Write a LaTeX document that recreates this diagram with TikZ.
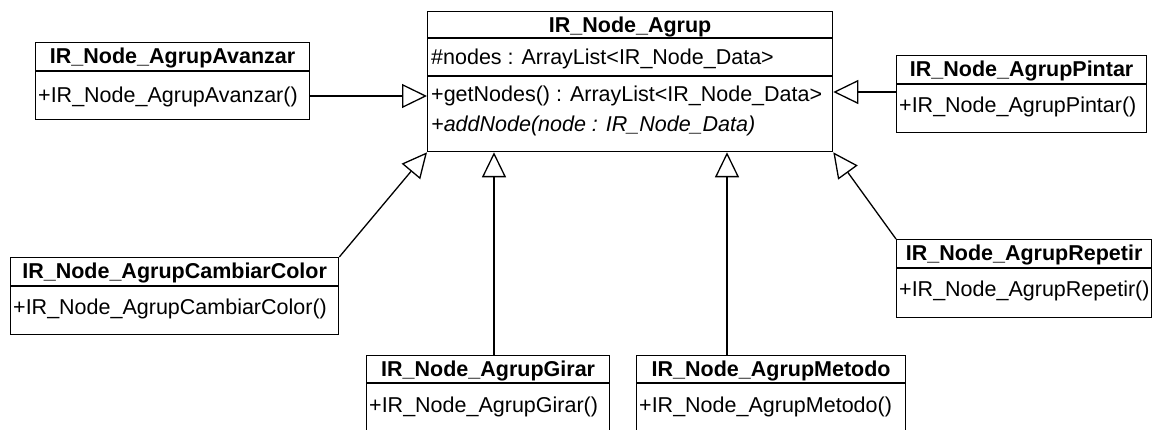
\documentclass[tikz,border=0pt]{standalone}
\usepackage{fontspec}
\setmainfont{Liberation Sans}
\usetikzlibrary{arrows.meta,calc}

\tikzset{
  umlbox/.style={draw, line width=1.3pt, fill=white, inner sep=0pt, anchor=north west},
  umlsep/.style={line width=1.3pt},
  umltitle/.style={font=\fontsize{21.5}{26}\selectfont\bfseries, anchor=base, inner sep=0pt},
  umlmember/.style={font=\fontsize{21.5}{26}\selectfont, anchor=base west, inner sep=0pt},
  inherit/.style={line width=1.3pt, -{Triangle[open, length=25pt, width=24pt, fill=white]}},
}

\begin{document}
\begin{tikzpicture}[x=1pt, y=-1pt]
\useasboundingbox (0,0) rectangle (1152,430);

% ---- base class ----
\node[umlbox, minimum width=405pt, minimum height=140pt] (agrup) at (427,11) {};
\draw[umlsep] (agrup.west |- 0,38) -- (agrup.east |- 0,38);
\draw[umlsep] (agrup.west |- 0,76) -- (agrup.east |- 0,76);
\node[umltitle] (agrupT) at (agrup.north |- 0,33) {IR\_Node\_Agrup};
\node[umlmember] (agrupA) at (431,65) {\#nodes : ArrayList<IR\_Node\_Data>};
\node[umlmember] (agrupM1) at (431,102) {+getNodes() : ArrayList<IR\_Node\_Data>};
\node[umlmember] (agrupM2) at (431,132) {\itshape +addNode(node : IR\_Node\_Data)};

% ---- subclasses ----
\node[umlbox, minimum width=274pt, minimum height=77pt] (avz) at (35,42) {};
\draw[umlsep] (avz.west |- 0,71) -- (avz.east |- 0,71);
\node[umltitle] (avzT) at (avz.north |- 0,64) {IR\_Node\_AgrupAvanzar};
\node[umlmember] (avzM) at (38,103) {+IR\_Node\_AgrupAvanzar()};

\node[umlbox, minimum width=250pt, minimum height=77pt] (pin) at (896,55) {};
\draw[umlsep] (pin.west |- 0,84) -- (pin.east |- 0,84);
\node[umltitle] (pinT) at (pin.north |- 0,77) {IR\_Node\_AgrupPintar};
\node[umlmember] (pinM) at (899,113) {+IR\_Node\_AgrupPintar()};

\node[umlbox, minimum width=328pt, minimum height=77pt] (cmb) at (10,257) {};
\draw[umlsep] (cmb.west |- 0,286) -- (cmb.east |- 0,286);
\node[umltitle] (cmbT) at (cmb.north |- 0,279) {IR\_Node\_AgrupCambiarColor};
\node[umlmember] (cmbM) at (13,315) {+IR\_Node\_AgrupCambiarColor()};

\node[umlbox, minimum width=255pt, minimum height=78pt] (rep) at (896,239) {};
\draw[umlsep] (rep.west |- 0,268) -- (rep.east |- 0,268);
\node[umltitle] (repT) at (rep.north |- 0,261) {IR\_Node\_AgrupRepetir};
\node[umlmember] (repM) at (899,297) {+IR\_Node\_AgrupRepetir()};

\node[umlbox, minimum width=243pt, minimum height=80pt] (gir) at (366,355) {};
\draw[umlsep] (gir.west |- 0,383) -- (gir.east |- 0,383);
\node[umltitle] (girT) at (gir.north |- 0,377) {IR\_Node\_AgrupGirar};
\node[umlmember] (girM) at (369,413) {+IR\_Node\_AgrupGirar()};

\node[umlbox, minimum width=269pt, minimum height=80pt] (met) at (636,355) {};
\draw[umlsep] (met.west |- 0,383) -- (met.east |- 0,383);
\node[umltitle] (metT) at (met.north |- 0,377) {IR\_Node\_AgrupMetodo};
\node[umlmember] (metM) at (639,413) {+IR\_Node\_AgrupMetodo()};

% ---- generalisations ----
\draw[inherit] (avz.east |- 0,96) -- (agrup.west |- 0,96);
\draw[inherit] (pin.west |- 0,92) -- (agrup.east |- 0,92);
\draw[inherit] (cmb.north east) -- (agrup.south west);
\draw[inherit] (rep.north west) -- (agrup.south east);
\draw[inherit] (gir.north -| 494,0) -- (agrup.south -| 494,0);
\draw[inherit] (met.north -| 727,0) -- (agrup.south -| 727,0);
\end{tikzpicture}
\end{document}
